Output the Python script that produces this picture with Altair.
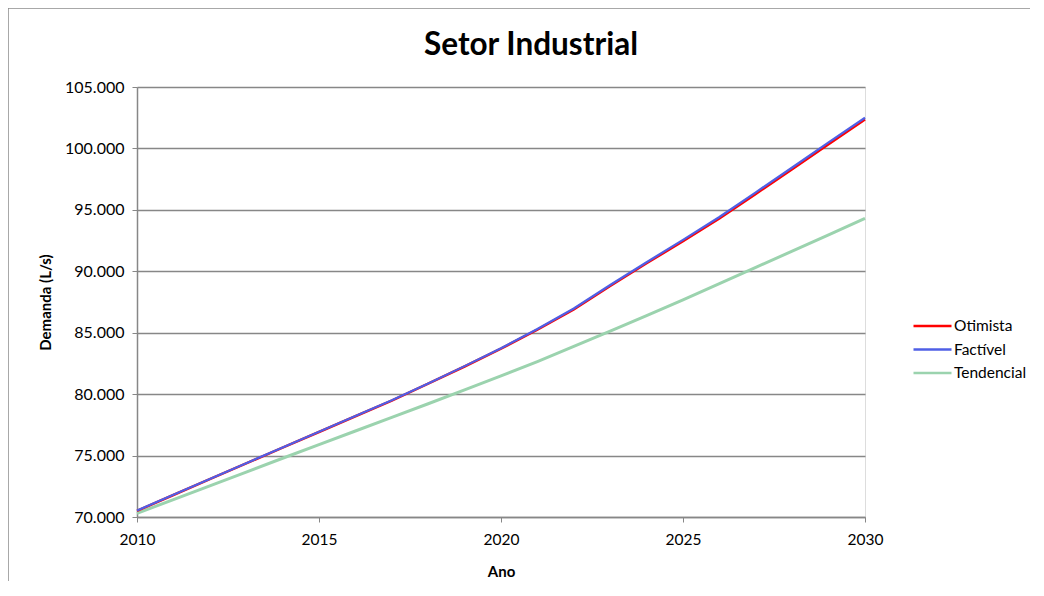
import altair as alt
import pandas as pd

years = list(range(2010, 2031))
otimista = [70500, 71790, 73080, 74360, 75640, 76920, 78200, 79480, 80850, 82250,
            83700, 85250, 86900, 88800, 90650, 92450, 94300, 96300, 98300, 100350, 102350]
factivel = [70520, 71810, 73100, 74380, 75660, 76940, 78220, 79500, 80870, 82280,
            83740, 85300, 86970, 88880, 90740, 92560, 94420, 96430, 98450, 100500, 102500]
tendencial = [70300, 71420, 72540, 73660, 74780, 75890, 77000, 78110, 79220, 80350,
              81480, 82650, 83880, 85120, 86400, 87680, 89000, 90320, 91640, 92970, 94300]
series = ["Otimista", "Factível", "Tendencial"]
colors = ["#FF0000", "#4F5FE6", "#9BD3AE"]

rows = []
for name, vals in zip(series, [otimista, factivel, tendencial]):
    for y, v in zip(years, vals):
        rows.append({"Ano": y, "Demanda": v, "Serie": name})
df = pd.DataFrame(rows)

FONT = "Lato"
W, H = 728, 430

color = alt.Color(
    "Serie:N",
    scale=alt.Scale(domain=series, range=colors),
    legend=alt.Legend(
        title=None, orient="none", legendX=784.5, legendY=228,
        symbolType="M-2,0L2,0", symbolSize=361, symbolStrokeWidth=2.5,
        labelFontSize=15.5, labelFont=FONT, labelColor="#000000",
        labelOffset=10.5, rowPadding=3.5,
    ),
)

x = alt.X("Ano:Q", scale=alt.Scale(domain=[2010, 2030], nice=False, zero=False),
          axis=alt.Axis(values=[2010, 2015, 2020, 2025, 2030], format="d", grid=False,
                        labelFlush=False,
                        title="Ano", titleFontSize=15, titleFontWeight="bold",
                        titleFont=FONT, titlePadding=17,
                        labelFontSize=15.5, labelFont=FONT, labelPadding=10,
                        tickSize=5, tickColor="#878787", domainColor="#878787",
                        domainWidth=1.5, labelColor="#000000", titleColor="#000000"))
y = alt.Y("Demanda:Q", scale=alt.Scale(domain=[70000, 105000], nice=False, zero=False),
          axis=alt.Axis(values=list(range(70000, 105001, 5000)),
                        labelExpr="replace(format(datum.value, ',.0f'), ',', '.')",
                        title="Demanda (L/s)", titleFontSize=15, titleFontWeight="bold",
                        titleFont=FONT, titlePadding=11,
                        labelFontSize=16, labelFont=FONT, labelPadding=8,
                        tickSize=5, tickColor="#878787", domainColor="#878787",
                        domainWidth=1.5, gridColor="#878787", gridWidth=1.3,
                        labelColor="#000000", titleColor="#000000"))

base = alt.Chart(df)
layers = []
for name, w in [("Tendencial", 3), ("Otimista", 2.5), ("Factível", 2.2)]:
    layers.append(
        base.transform_filter(alt.datum.Serie == name)
        .mark_line(strokeWidth=w)
        .encode(x=x, y=y, color=color)
    )

border = alt.Chart(pd.DataFrame({"a": [0]})).mark_rect(
    fill=None, stroke="#8c8c8c", strokeWidth=1.5, clip=False
).encode(x=alt.value(-129), x2=alt.value(W + 200), y=alt.value(-79), y2=alt.value(H + 200))

chart = alt.layer(border, *layers).properties(
    width=W, height=H,
    title=alt.TitleParams("Setor Industrial", fontSize=31.5, fontWeight="bold",
                          font=FONT, anchor="middle", offset=-54, dx=30, color="#000000"),
    autosize=alt.AutoSizeParams(type="none"),
    padding={"left": 129, "top": 79, "right": 165, "bottom": 64},
).configure_view(stroke=None).configure(background="white")

chart.save("out.html", embed_options={"renderer": "svg", "actions": False})
